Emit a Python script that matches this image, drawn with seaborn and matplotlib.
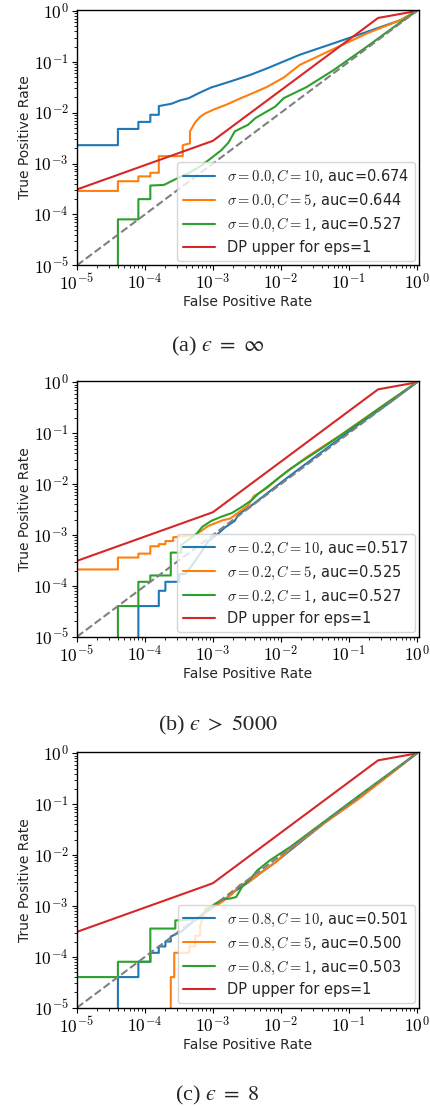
import numpy as np
import pandas as pd
import matplotlib
matplotlib.use("Agg")
import matplotlib.pyplot as plt
from matplotlib.ticker import FuncFormatter, LogLocator
import seaborn as sns

# ---------------- data ----------------
dp_fpr = [1e-5, 1e-3, 0.27, 1.0]
dp_tpr = [3.1e-4, 2.8e-3, 0.73, 1.0]
diag = [1e-5, 1.0]

# panel (a) sigma = 0.0
a_c10_fpr = [0, 4e-5, 4e-5, 8e-5, 8e-5, 1.2e-4, 1.2e-4, 1.6e-4, 1.6e-4, 2.45e-4, 3.3e-4, 4.4e-4, 6.5e-4,
             9.5e-4, 1.15e-3, 2.0e-3, 3.5e-3, 6.2e-3, 8.3e-3, 1.9e-2, 6.0e-2, 0.186, 0.575, 1.0]
a_c10_tpr = [2.3e-3, 2.3e-3, 4.8e-3, 4.8e-3, 6.6e-3, 6.6e-3, 9.1e-3, 9.1e-3, 1.35e-2, 1.5e-2, 1.75e-2, 1.93e-2, 2.5e-2,
             3.15e-2, 3.4e-2, 4.3e-2, 5.5e-2, 7.4e-2, 8.7e-2, 0.138, 0.232, 0.39, 0.66, 1.0]
a_c5_fpr = [0, 4e-5, 4e-5, 8e-5, 8e-5, 1.2e-4, 1.2e-4, 1.6e-4, 1.6e-4, 3.6e-4, 3.6e-4, 4.6e-4, 4.6e-4,
            5.5e-4, 6.5e-4, 7.5e-4, 1.02e-3, 1.6e-3, 2.5e-3, 3.8e-3, 6.2e-3, 1.1e-2, 1.9e-2, 5.9e-2,
            0.186, 0.575, 1.0]
a_c5_tpr = [2.9e-4, 2.9e-4, 4.5e-4, 4.5e-4, 5.6e-4, 5.6e-4, 6.6e-4, 6.6e-4, 1.4e-3, 1.4e-3, 2.3e-3, 2.5e-3, 4.3e-3,
            6.5e-3, 8.3e-3, 9.5e-3, 1.15e-2, 1.45e-2, 1.9e-2, 2.4e-2, 3.2e-2, 4.9e-2, 8.7e-2, 0.178,
            0.363, 0.66, 1.0]
a_c1_fpr = [0, 4e-5, 4e-5, 8e-5, 8e-5, 1.2e-4, 1.2e-4, 1.9e-4, 2.7e-4, 4.4e-4, 6.9e-4, 9.5e-4,
            1.35e-3, 1.7e-3, 2.1e-3, 3.3e-3, 4.2e-3, 8.3e-3, 1.1e-2, 2.4e-2, 6.0e-2, 0.186, 0.575, 1.0]
a_c1_tpr = [0, 0, 8e-5, 8e-5, 2e-4, 2e-4, 3.7e-4, 3.8e-4, 4.8e-4, 6.5e-4, 9.3e-4, 1.29e-3,
            1.86e-3, 2.6e-3, 4.3e-3, 5.8e-3, 7.8e-3, 1.32e-2, 1.93e-2, 3.2e-2, 6.9e-2, 0.2, 0.6, 1.0]

# panel (b) sigma = 0.2
b_c10_fpr = [0, 8e-5, 8e-5, 1.6e-4, 1.6e-4, 2e-4, 2e-4, 3.2e-4, 3.2e-4, 3.9e-4, 5e-4, 6.5e-4, 8.5e-4,
             1.2e-3, 1.5e-3, 2.1e-3, 2.4e-3, 3.3e-3, 5.2e-3, 8.3e-3, 1.38e-2, 4.3e-2, 0.132, 0.41, 1.0]
b_c10_tpr = [0, 0, 4e-5, 4e-5, 8e-5, 8e-5, 1.2e-4, 1.2e-4, 1.7e-4, 1.7e-4, 2.6e-4, 4.3e-4, 7.5e-4,
             1.07e-3, 1.4e-3, 1.9e-3, 2.6e-3, 3.4e-3, 5.4e-3, 8.8e-3, 1.48e-2, 4.6e-2, 0.141, 0.41, 1.0]
b_c5_fpr = [0, 4e-5, 4e-5, 8e-5, 8e-5, 1.2e-4, 1.2e-4, 1.6e-4, 1.6e-4, 2e-4, 2e-4, 2.6e-4, 2.6e-4,
            5.5e-4, 6.9e-4, 8.5e-4, 1.4e-3, 1.8e-3, 2.4e-3, 3.3e-3, 4.0e-3, 6.2e-3, 9.8e-3, 2.4e-2,
            7.4e-2, 0.229, 1.0]
b_c5_tpr = [2.1e-4, 2.1e-4, 3.6e-4, 3.6e-4, 4.3e-4, 4.3e-4, 6e-4, 6e-4, 6.6e-4, 6.6e-4, 7.6e-4, 7.6e-4, 9e-4,
            1e-3, 1.23e-3, 1.5e-3, 1.95e-3, 2.1e-3, 2.8e-3, 3.8e-3, 5.8e-3, 8.3e-3, 1.4e-2, 3.4e-2,
            9.0e-2, 0.257, 1.0]
b_c1_fpr = [0, 4e-5, 4e-5, 8e-5, 8e-5, 1.2e-4, 1.2e-4, 2.4e-4, 2.4e-4, 3.4e-4, 3.4e-4, 5.8e-4, 7e-4,
            9.5e-4, 1.35e-3, 1.9e-3, 2.7e-3, 3.7e-3, 4.5e-3, 7.8e-3, 1.38e-2, 4.3e-2, 0.132, 0.41, 1.0]
b_c1_tpr = [0, 0, 4e-5, 4e-5, 1.2e-4, 1.2e-4, 1.6e-4, 1.6e-4, 4.5e-4, 4.5e-4, 6.3e-4, 1.07e-3, 1.45e-3,
            1.9e-3, 2.3e-3, 2.7e-3, 3.6e-3, 4.8e-3, 6.2e-3, 1.1e-2, 2.0e-2, 5.4e-2, 0.151, 0.44, 1.0]

# panel (c) sigma = 0.8
c_c10_fpr = [0, 4e-5, 4e-5, 8e-5, 8e-5, 1.2e-4, 1.2e-4, 1.6e-4, 1.6e-4, 2e-4, 2e-4, 2.4e-4, 2.4e-4,
             3.5e-4, 5e-4, 7e-4, 1.07e-3, 1.5e-3, 2.1e-3, 3.3e-3, 5.2e-3, 8.3e-3, 1.38e-2, 4.3e-2,
             0.132, 0.41, 1.0]
c_c10_tpr = [0, 0, 4e-5, 4e-5, 8e-5, 8e-5, 1.2e-4, 1.2e-4, 1.6e-4, 1.6e-4, 2e-4, 2e-4, 2.5e-4,
             3.2e-4, 4.8e-4, 6.8e-4, 1.0e-3, 1.35e-3, 1.95e-3, 2.9e-3, 4.6e-3, 7.2e-3, 1.25e-2, 4.2e-2,
             0.13, 0.4, 1.0]
c_c5_fpr = [0, 2.4e-4, 2.4e-4, 2.7e-4, 2.7e-4, 4.5e-4, 4.5e-4, 5.5e-4, 5.5e-4, 6.5e-4, 6.5e-4, 7.8e-4,
            1.2e-3, 1.9e-3, 2.5e-3, 3.3e-3, 5.2e-3, 8.3e-3, 1.38e-2, 4.3e-2, 0.132, 0.41, 1.0]
c_c5_tpr = [0, 0, 4e-5, 4e-5, 1.2e-4, 1.2e-4, 1.6e-4, 1.6e-4, 2.6e-4, 2.6e-4, 4e-4, 9e-4,
            1.07e-3, 1.7e-3, 2.6e-3, 2.9e-3, 4.6e-3, 7.2e-3, 1.33e-2, 4.2e-2, 0.12, 0.39, 1.0]
c_c1_fpr = [0, 4e-5, 4e-5, 1.2e-4, 1.2e-4, 2.8e-4, 2.8e-4, 6e-4, 8e-4, 1.07e-3, 1.4e-3, 1.8e-3,
            2.2e-3, 2.7e-3, 3.5e-3, 4.5e-3, 6.9e-3, 1.38e-2, 4.3e-2, 0.132, 1.0]
c_c1_tpr = [4e-5, 4e-5, 8e-5, 8e-5, 3.6e-4, 3.6e-4, 5.2e-4, 5.5e-4, 8e-4, 1.1e-3, 1.35e-3, 1.4e-3,
            1.5e-3, 2.4e-3, 3.3e-3, 5.0e-3, 7.9e-3, 1.45e-2, 4.5e-2, 0.138, 1.0]

panel_labels = [
    ["$\\sigma = 0.0, C = 10$, auc=0.674", "$\\sigma = 0.0, C = 5$, auc=0.644", "$\\sigma = 0.0, C = 1$, auc=0.527"],
    ["$\\sigma = 0.2, C = 10$, auc=0.517", "$\\sigma = 0.2, C = 5$, auc=0.525", "$\\sigma = 0.2, C = 1$, auc=0.527"],
    ["$\\sigma = 0.8, C = 10$, auc=0.501", "$\\sigma = 0.8, C = 5$, auc=0.500", "$\\sigma = 0.8, C = 1$, auc=0.503"],
]
dp_label = "DP upper for eps=1"
captions = ["(a) $\u03f5\\ =\\ \\infty$", "(b) $\u03f5\\ >\\ 5000$", "(c) $\u03f5\\ =\\ 8$"]

panel_curves = [
    [(a_c10_fpr, a_c10_tpr), (a_c5_fpr, a_c5_tpr), (a_c1_fpr, a_c1_tpr)],
    [(b_c10_fpr, b_c10_tpr), (b_c5_fpr, b_c5_tpr), (b_c1_fpr, b_c1_tpr)],
    [(c_c10_fpr, c_c10_tpr), (c_c5_fpr, c_c5_tpr), (c_c1_fpr, c_c1_tpr)],
]

# ---------------- style ----------------
sns.set_theme(style="ticks", rc={
    "axes.linewidth": 1.0,
    "xtick.major.size": 3.5, "ytick.major.size": 3.5,
    "xtick.minor.size": 2.0, "ytick.minor.size": 2.0,
    "xtick.major.width": 0.8, "ytick.major.width": 0.8,
    "xtick.minor.width": 0.6, "ytick.minor.width": 0.6,
    "axes.edgecolor": "black",
    "xtick.color": "black", "ytick.color": "black",
})
plt.rcParams["font.family"] = ["DejaVu Sans"]
plt.rcParams["mathtext.fontset"] = "cm"

colors = ["#1f77b4", "#ff7f0e", "#2ca02c", "#d62728"]

fig = plt.figure(figsize=(4.31, 11.07), dpi=100)
W, H = 431.0, 1107.0
ax_left = 77 / W
ax_w = (419 - 77) / W
ax_h = 255.6 / H
bottoms_px = [265.3, 636.7, 1007.7]
caption_px = [346, 725, 1095]

fmt = FuncFormatter(lambda v, p: "$10^{%d}$" % int(round(np.log10(v))))

for i in range(3):
    ax = fig.add_axes([ax_left, 1 - bottoms_px[i] / H, ax_w, ax_h])
    frames = []
    names = panel_labels[i] + [dp_label]
    for (fx, ty), name in zip(panel_curves[i], panel_labels[i]):
        frames.append(pd.DataFrame({"fpr": fx, "tpr": ty, "curve": name}))
    frames.append(pd.DataFrame({"fpr": dp_fpr, "tpr": dp_tpr, "curve": dp_label}))
    df = pd.concat(frames, ignore_index=True)
    sns.lineplot(data=df, x="fpr", y="tpr", hue="curve", hue_order=names,
                 palette=dict(zip(names, colors)), estimator=None, sort=False,
                 linewidth=1.5, legend=False, ax=ax)
    handles = list(ax.get_lines())[:4]
    ax.plot(diag, diag, ls="--", color="gray", lw=1.5, dashes=(3.7, 1.6))
    ax.set_xscale("log")
    ax.set_yscale("log")
    ax.set_xlim(1e-5, 1.08)
    ax.set_ylim(1e-5, 1.06)
    ax.xaxis.set_major_locator(LogLocator(base=10, numticks=10))
    ax.yaxis.set_major_locator(LogLocator(base=10, numticks=10))
    ax.xaxis.set_major_formatter(fmt)
    ax.yaxis.set_major_formatter(fmt)
    ax.tick_params(axis="both", which="major", labelsize=12.5, pad=2.5)
    ax.set_xlabel("False Positive Rate", fontsize=10, labelpad=1)
    ax.set_ylabel("True Positive Rate", fontsize=10, labelpad=1)
    ax.legend(handles, names, loc="lower right", fontsize=10.5, handlelength=2.2,
              borderaxespad=0.3, labelspacing=0.4, handletextpad=0.8)
    fig.text(0.505, 1 - caption_px[i] / H, captions[i], ha="center", va="center",
             fontsize=16, family="Liberation Serif", math_fontfamily="stix")

fig.savefig("out.png", dpi=100)
